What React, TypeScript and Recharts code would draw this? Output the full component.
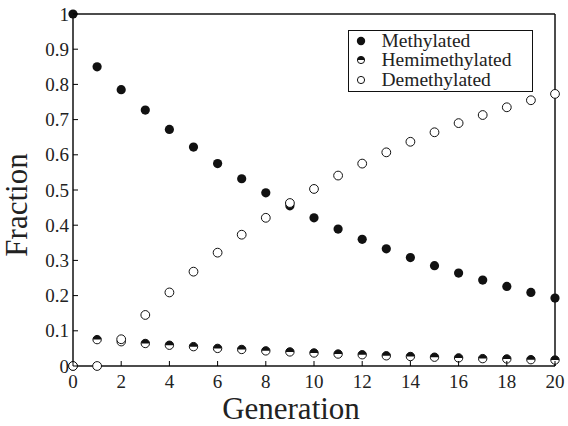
import React from 'react';
import { ScatterChart, Scatter, XAxis, YAxis, Legend, Label } from 'recharts';

const generations = [0, 1, 2, 3, 4, 5, 6, 7, 8, 9, 10, 11, 12, 13, 14, 15, 16, 17, 18, 19, 20];
const methylated = [1, 0.85, 0.785, 0.727, 0.672, 0.622, 0.575, 0.532, 0.492, 0.455, 0.421, 0.389, 0.36, 0.333, 0.308, 0.285, 0.264, 0.244, 0.226, 0.209, 0.193];
const hemimethylated = [0, 0.075, 0.069, 0.064, 0.059, 0.055, 0.05, 0.047, 0.043, 0.04, 0.037, 0.034, 0.032, 0.029, 0.027, 0.025, 0.023, 0.021, 0.02, 0.018, 0.017];
const demethylated = [0, 0, 0.076, 0.145, 0.209, 0.268, 0.322, 0.373, 0.421, 0.463, 0.503, 0.541, 0.575, 0.607, 0.637, 0.664, 0.69, 0.713, 0.735, 0.755, 0.773];
const xTicks = [0, 2, 4, 6, 8, 10, 12, 14, 16, 18, 20];
const yTicks = [0, 0.1, 0.2, 0.3, 0.4, 0.5, 0.6, 0.7, 0.8, 0.9, 1];

const FONT = '"Liberation Serif", "Times New Roman", serif';
const TICK = 5;

const toPoints = (vals: number[]) => generations.map((g, i) => ({ x: g, y: vals[i] }));

const fmtY = (v: number) => (v === 0 ? '0' : v === 1 ? '1' : v.toFixed(1));

const BottomTick = (p: any) => (
  <g>
    <line x1={p.x} y1={p.y} x2={p.x} y2={p.y - TICK} stroke="#000" strokeWidth={1} />
    <text x={p.x} y={p.y + 22} textAnchor="middle" fontFamily={FONT} fontSize={19} fill="#222">
      {p.payload.value}
    </text>
  </g>
);

const TopTick = (p: any) => (
  <line x1={p.x} y1={p.y} x2={p.x} y2={p.y + TICK} stroke="#000" strokeWidth={1} />
);

const LeftTick = (p: any) => (
  <g>
    <line x1={p.x} y1={p.y} x2={p.x + TICK} y2={p.y} stroke="#000" strokeWidth={1} />
    <text x={p.x - 4} y={p.y + 6.5} textAnchor="end" fontFamily={FONT} fontSize={19} fill="#222">
      {fmtY(p.payload.value)}
    </text>
  </g>
);

const RightTick = (p: any) => (
  <line x1={p.x} y1={p.y} x2={p.x - TICK} y2={p.y} stroke="#000" strokeWidth={1} />
);

const FilledDot = (p: any) => <circle cx={p.cx} cy={p.cy} r={4.6} fill="#111" />;

const HalfDot = (p: any) => {
  const r = 4.2;
  return (
    <g>
      <circle cx={p.cx} cy={p.cy} r={r} fill="#fff" stroke="#111" strokeWidth={1} />
      <path d={`M${p.cx - r},${p.cy} A${r},${r} 0 0 1 ${p.cx + r},${p.cy} Z`} fill="#111" />
    </g>
  );
};

const OpenDot = (p: any) => (
  <circle cx={p.cx} cy={p.cy} r={4.4} fill="#fff" stroke="#111" strokeWidth={1} />
);

const legendRows = [
  { name: 'Methylated', kind: 'filled' },
  { name: 'Hemimethylated', kind: 'half' },
  { name: 'Demethylated', kind: 'open' },
];

const LegendMarker = ({ kind }: { kind: string }) => (
  <svg width={14} height={14} style={{ display: 'block' }}>
    {kind === 'filled' && <circle cx={7} cy={7} r={4.2} fill="#111" />}
    {kind === 'half' && (
      <g>
        <circle cx={7} cy={7} r={3.6} fill="#fff" stroke="#111" strokeWidth={1} />
        <path d="M3.4,7 A3.6,3.6 0 0 1 10.6,7 Z" fill="#111" />
      </g>
    )}
    {kind === 'open' && <circle cx={7} cy={7} r={3.6} fill="#fff" stroke="#111" strokeWidth={1} />}
  </svg>
);

const LegendBox = () => (
  <div
    style={{
      border: '1.5px solid #111',
      background: '#fff',
      boxSizing: 'border-box',
      width: 185,
      height: 62,
      paddingLeft: 4.5,
      fontFamily: FONT,
      fontSize: 19.5,
      lineHeight: '20px',
      color: '#222',
    }}
  >
    {legendRows.map((r) => (
      <div key={r.name} style={{ display: 'flex', alignItems: 'center', height: 19.6 }}>
        <LegendMarker kind={r.kind} />
        <span style={{ marginLeft: 14 }}>{r.name}</span>
      </div>
    ))}
  </div>
);

export default function App() {
  const axisLine = { stroke: '#111', strokeWidth: 1.5 };
  return (
    <div style={{ position: 'absolute', left: 0, top: 0, width: 568, height: 426, background: '#fff' }}>
      <ScatterChart width={568} height={426} margin={{ top: 0, right: 0, bottom: 0, left: 0 }}>
        <XAxis
          xAxisId="b"
          type="number"
          dataKey="x"
          domain={[0, 20]}
          ticks={xTicks}
          height={60}
          tickSize={0}
          tickMargin={0}
          tickLine={false}
          axisLine={axisLine}
          tick={<BottomTick />}
          interval={0}
        >
          <Label
            content={() => (
              <text x={291} y={419} textAnchor="middle" fontFamily={FONT} fontSize={31} fill="#222">
                Generation
              </text>
            )}
          />
        </XAxis>
        <XAxis
          xAxisId="t"
          orientation="top"
          type="number"
          domain={[0, 20]}
          ticks={xTicks}
          height={14}
          tickSize={0}
          tickMargin={0}
          tickLine={false}
          axisLine={axisLine}
          tick={<TopTick />}
          interval={0}
        />
        <YAxis
          yAxisId="l"
          type="number"
          dataKey="y"
          domain={[0, 1]}
          ticks={yTicks}
          width={73}
          tickSize={0}
          tickMargin={0}
          tickLine={false}
          axisLine={axisLine}
          tick={<LeftTick />}
          interval={0}
        >
          <Label
            content={() => (
              <text
                x={27}
                y={205}
                transform="rotate(-90 27 205)"
                textAnchor="middle"
                fontFamily={FONT}
                fontSize={31}
                fill="#222"
              >
                Fraction
              </text>
            )}
          />
        </YAxis>
        <YAxis
          yAxisId="r"
          orientation="right"
          type="number"
          domain={[0, 1]}
          ticks={yTicks}
          width={13}
          tickSize={0}
          tickMargin={0}
          tickLine={false}
          axisLine={axisLine}
          tick={<RightTick />}
          interval={0}
        />
        <Legend
          layout="horizontal"
          verticalAlign="middle"
          align="center"
          content={() => <LegendBox />}
          wrapperStyle={{ left: 348, top: 30, width: 185, height: 62 }}
        />
        <Scatter
          name="Methylated"
          xAxisId="b"
          yAxisId="l"
          data={toPoints(methylated)}
          shape={<FilledDot />}
          isAnimationActive={false}
        />
        <Scatter
          name="Hemimethylated"
          xAxisId="b"
          yAxisId="l"
          data={toPoints(hemimethylated)}
          shape={<HalfDot />}
          isAnimationActive={false}
        />
        <Scatter
          name="Demethylated"
          xAxisId="b"
          yAxisId="l"
          data={toPoints(demethylated)}
          shape={<OpenDot />}
          isAnimationActive={false}
        />
      </ScatterChart>
    </div>
  );
}
